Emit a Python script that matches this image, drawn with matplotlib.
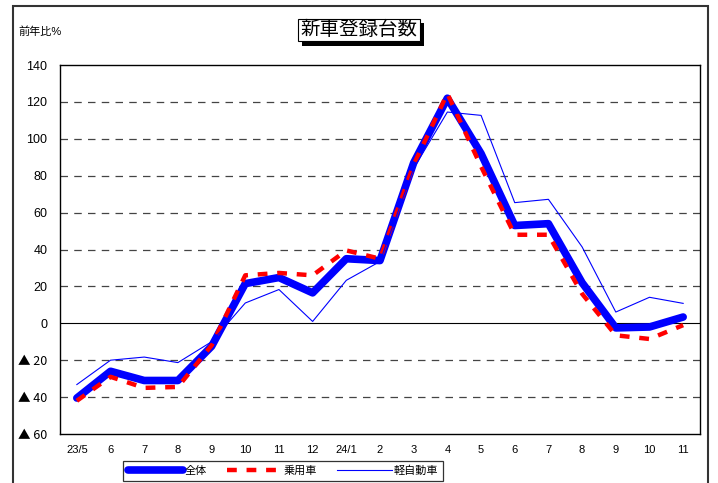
import matplotlib
matplotlib.use("Agg")
import matplotlib.pyplot as plt
import matplotlib.patheffects as pe
from matplotlib.patches import Rectangle

plt.rcParams['font.family'] = ['Liberation Sans', 'Noto Sans CJK JP', 'DejaVu Sans']

months = ["23/5", "6", "7", "8", "9", "10", "11", "12", "24/1", "2", "3",
          "4", "5", "6", "7", "8", "9", "10", "11"]
total = [-40.5, -26, -31, -31, -12.5, 21.5, 24.8, 16.5, 35, 34, 87,
         122, 92, 53, 54, 22, -2.5, -2, 3.4]
passenger = [-42, -29, -35, -34.5, -12, 26, 27.3, 26, 39.5, 35, 86,
             124.5, 85, 48, 48, 16, -6.5, -8.5, -1]
kei = [-33.2, -20, -18.3, -21.3, -10, 11, 18.3, 1, 23.3, 33.5, 84,
       114.5, 112.7, 65.4, 67.2, 41.4, 6.1, 14.1, 10.8]
yticks = [140, 120, 100, 80, 60, 40, 20, 0, -20, -40, -60]
ytick_labels = ["140", "120", "100", "80", "60", "40", "20", "0",
                "▲ 20", "▲ 40", "▲ 60"]
series_names = ["全体", "乗用車", "軽自動車"]
title = "新車登録台数"
ylabel = "前年比%"

W, H = 718, 483
fig = plt.figure(figsize=(W / 100, H / 100), dpi=100)
ax = fig.add_axes([60 / W, (H - 434) / H, 640 / W, 369 / H])

x = list(range(len(months)))
ax.set_xlim(-0.5, len(months) - 0.5)
ax.set_ylim(-60, 140)

for v in yticks:
    if v == 0:
        ax.axhline(v, color='black', lw=0.8, zorder=1)
    elif -60 < v < 140:
        ax.axhline(v, color='#444444', lw=0.9, ls=(0, (6, 5)), zorder=1)

l1, = ax.plot(x, total, color='#0000ff', lw=5.5, solid_joinstyle='round',
              solid_capstyle='round', zorder=3)
l2, = ax.plot(x, passenger, color='#ff0000', lw=3.2, dashes=(2.2, 2.2),
              dash_capstyle='butt', zorder=4)
l3, = ax.plot(x, kei, color='#0000ff', lw=0.8, zorder=5)

ax.set_yticks(yticks)
ax.set_yticklabels(ytick_labels, fontsize=9)
for lab in ax.get_yticklabels():
    if "▲" in lab.get_text():
        lab.set_fontfamily(['Noto Sans CJK JP', 'DejaVu Sans'])
ax.set_xticks(x)
ax.set_xticklabels(months, fontsize=8)
ax.tick_params(axis='both', length=0)
ax.tick_params(axis='y', pad=9)
ax.tick_params(axis='x', pad=8)
for s in ax.spines.values():
    s.set_linewidth(1.0)

leg = fig.legend([l1, l2, l3], series_names, loc='center',
                 bbox_to_anchor=(283 / W, 1 - 471 / H), ncol=3, fontsize=8,
                 frameon=True, fancybox=False, edgecolor='black',
                 handlelength=5.0, handletextpad=0.1, columnspacing=1.8,
                 borderpad=0.45, borderaxespad=0)
leg.get_frame().set_linewidth(0.9)

fig.text(18 / W, 1 - 32 / H, ylabel, fontsize=8, va='center', ha='left')

t = fig.text(359 / W, 1 - 30 / H, title, fontsize=14, ha='center', va='center',
             bbox=dict(boxstyle='square,pad=0.12', fc='white', ec='black', lw=0.8))
t.get_bbox_patch().set_path_effects([
    pe.SimplePatchShadow(offset=(3, -3), shadow_rgbFace='black', alpha=1.0),
    pe.Normal()])

fig.patches.append(Rectangle((13 / W, -0.02), (708 - 13) / W, 1.02 - 6 / H,
                             transform=fig.transFigure, fill=False,
                             ec='#333333', lw=1.5))

fig.savefig("out.png", dpi=100)
